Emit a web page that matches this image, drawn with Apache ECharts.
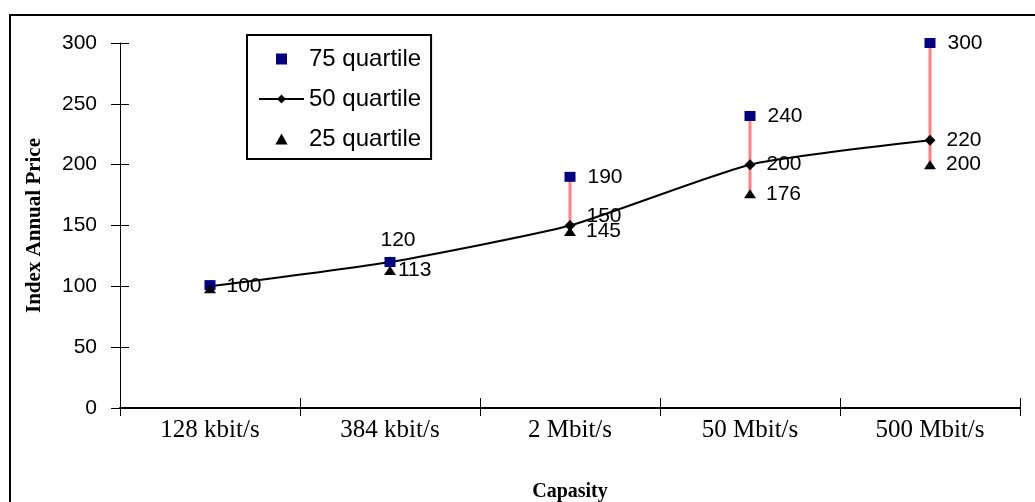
<!DOCTYPE html>
<html>
<head>
<meta charset="utf-8">
<script src="https://cdn.jsdelivr.net/npm/echarts@6/dist/echarts.min.js"></script>
<style>
html,body{margin:0;padding:0;background:#fff;}
#chart{width:1035px;height:502px;}
</style>
</head>
<body>
<div id="chart"></div>
<script>
const categories = ['128 kbit/s', '384 kbit/s', '2 Mbit/s', '50 Mbit/s', '500 Mbit/s'];
const q75 = [101, 120, 190, 240, 300];
const q50 = [100, 120, 150, 200, 220];
const q25 = [98, 113, 145, 176, 200];
const yTicks = [0, 50, 100, 150, 200, 250, 300];

const sans = '"Liberation Sans", Arial, sans-serif';
const serif = '"Liberation Serif", "Times New Roman", serif';

const chart = echarts.init(document.getElementById('chart'));

const labelBase = {
  show: true, position: 'right', color: '#000', opacity: 1,
  fontFamily: sans, fontSize: 21
};

const d75 = q75.map((v, i) => {
  if (i === 0) return { value: v, label: { show: false } };
  if (i === 1) return { value: v, label: { show: true, position: 'top', distance: 6, offset: [8, 0] } };
  return v;
});
const d50 = q50.map((v, i) => {
  if (i === 1) return { value: v, label: { show: false } };
  if (i === 2) return { value: v, label: { show: true, offset: [0, -9] } };
  return v;
});
const d25 = q25.map((v, i) => {
  if (i === 0) return { value: v, label: { show: false } };
  if (i === 1) return { value: v, label: { show: true, distance: 2 } };
  return v;
});
const hiLo = q25.map((v, i) => [i, v, q75[i]]);

const squarePath = 'path://M0,0L10,0L10,10L0,10Z';
const triPath = 'path://M5,0L10,9L0,9Z';

const option = {
  animation: false,
  backgroundColor: '#fff',
  graphic: [{
    type: 'rect', silent: true,
    shape: { x: 10, y: 15, width: 1040, height: 500 },
    style: { fill: 'none', stroke: '#000', lineWidth: 2 },
    z: 100
  }],
  grid: { left: 120, right: 15, top: 43, bottom: 94, containLabel: false, outerBoundsMode: 'none' },
  legend: {
    orient: 'vertical',
    left: 247, top: 35,
    padding: [12, 10, 8, 11],
    itemGap: 16,
    itemWidth: 45, itemHeight: 11,
    borderColor: '#000', borderWidth: 2,
    backgroundColor: '#fff',
    textStyle: { fontFamily: sans, fontSize: 24, color: '#000' },
    data: [
      { name: '75 quartile', icon: squarePath, itemStyle: { color: '#000080', opacity: 1 } },
      { name: '50 quartile' },
      { name: '25 quartile', icon: triPath, itemStyle: { color: '#000', opacity: 1 } }
    ],
    z: 10
  },
  xAxis: [{
    type: 'category',
    data: categories,
    boundaryGap: true,
    name: 'Capasity',
    nameLocation: 'middle',
    nameGap: 74,
    nameTextStyle: { fontFamily: serif, fontWeight: 'bold', fontSize: 20, color: '#000' },
    axisLine: { lineStyle: { color: '#000', width: 2 } },
    axisTick: { show: true, length: 8, lineStyle: { color: '#000', width: 1 } },
    axisLabel: { margin: 10, fontFamily: serif, fontSize: 25, color: '#000' },
    splitLine: { show: false }
  }, {
    type: 'category',
    data: categories,
    position: 'bottom',
    boundaryGap: true,
    axisLine: { show: false },
    axisTick: { show: true, inside: true, length: 10, lineStyle: { color: '#000', width: 1 } },
    axisLabel: { show: false },
    splitLine: { show: false }
  }],
  yAxis: [{
    type: 'value',
    min: 0, max: 300, interval: 50,
    name: 'Index Annual Price',
    nameLocation: 'middle',
    nameGap: 75,
    nameTextStyle: { fontFamily: serif, fontWeight: 'bold', fontSize: 21, color: '#000' },
    axisLine: { show: true, lineStyle: { color: '#000', width: 1 } },
    axisTick: { show: true, length: 9, lineStyle: { color: '#000', width: 1 } },
    axisLabel: {
      margin: 23, fontFamily: sans, fontSize: 21, color: '#000',
      formatter: v => (yTicks.indexOf(v) >= 0 ? String(v) : '')
    },
    splitLine: { show: false }
  }, {
    type: 'value',
    min: 0, max: 300, interval: 50,
    position: 'left',
    axisLine: { show: false },
    axisTick: { show: true, inside: true, length: 9, lineStyle: { color: '#000', width: 1 } },
    axisLabel: { show: false },
    splitLine: { show: false }
  }],
  series: [
    {
      name: 'hilo',
      type: 'custom',
      z: 1,
      silent: true,
      data: hiLo,
      renderItem: function (params, api) {
        const x = api.value(0);
        const p1 = api.coord([x, api.value(1)]);
        const p2 = api.coord([x, api.value(2)]);
        return {
          type: 'line',
          shape: { x1: p1[0], y1: p1[1], x2: p2[0], y2: p2[1] },
          style: { stroke: '#FF8080', lineWidth: 3 }
        };
      }
    },
    {
      name: '50 quartile',
      type: 'line',
      z: 3,
      data: d50,
      smooth: 0.18,
      symbol: 'diamond',
      symbolSize: 11,
      showAllSymbol: true,
      lineStyle: { color: '#000', width: 2 },
      itemStyle: { color: '#000', opacity: 1 },
      label: Object.assign({}, labelBase, { distance: 11 })
    },
    {
      name: '75 quartile',
      type: 'scatter',
      z: 4,
      data: d75,
      symbol: 'rect',
      symbolSize: [11, 10],
      itemStyle: { color: '#000080', opacity: 1 },
      label: Object.assign({}, labelBase, { distance: 12 })
    },
    {
      name: '25 quartile',
      type: 'scatter',
      z: 4,
      data: d25,
      symbol: 'triangle',
      symbolSize: [12, 9],
      itemStyle: { color: '#000', opacity: 1 },
      label: Object.assign({}, labelBase, { distance: 10 })
    }
  ]
};
chart.setOption(option);
</script>
</body>
</html>
